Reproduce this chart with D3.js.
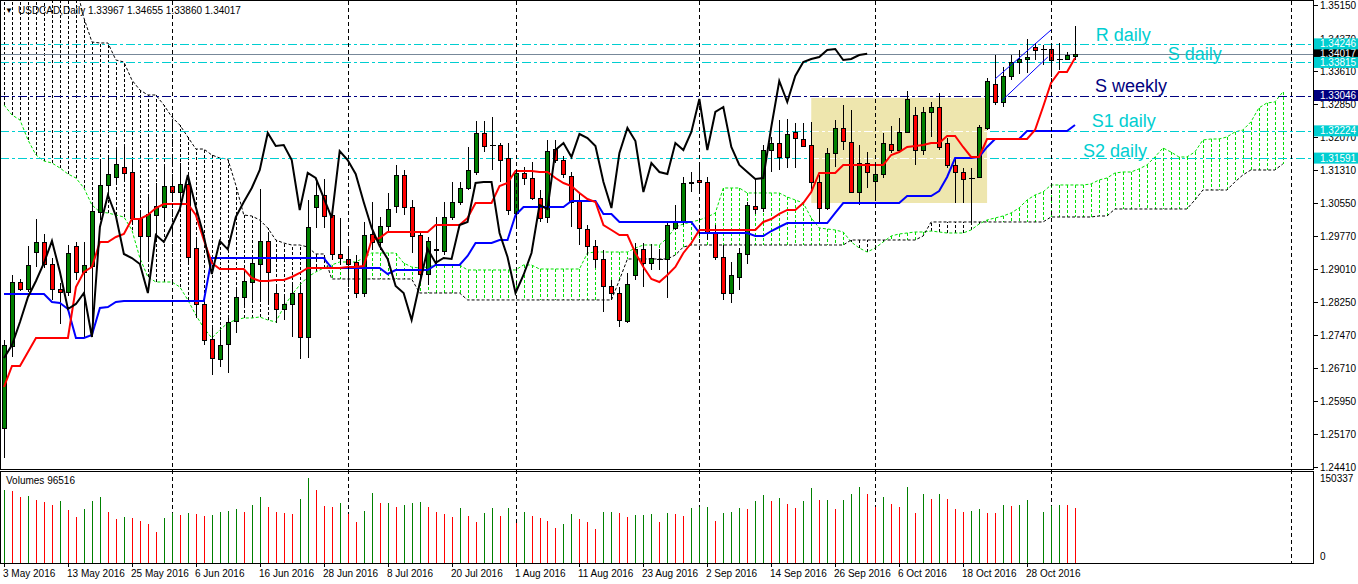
<!DOCTYPE html>
<html><head><meta charset="utf-8">
<script src="https://cdn.jsdelivr.net/npm/d3@7"></script>
<style>
body{margin:0;background:#fff;}
svg{display:block;font-family:"Liberation Sans",Arial,sans-serif;}
</style>
</head><body>
<svg id="c" width="1358" height="584"></svg>
<script>
// ---------------- DATA ----------------
const symbol = "USDCAD,Daily";
const dateLabels = ["3 May 2016","13 May 2016","25 May 2016","6 Jun 2016","16 Jun 2016","28 Jun 2016","8 Jul 2016","20 Jul 2016","1 Aug 2016","11 Aug 2016","23 Aug 2016","2 Sep 2016","14 Sep 2016","26 Sep 2016","6 Oct 2016","18 Oct 2016","28 Oct 2016"];
const dateLabelIdx = [0,8,16,24,32,40,48,56,64,72,80,88,96,104,112,120,128];
const gridIdx = [21,43,64,87,109,131,161];
const priceTicks = [1.35150,1.34370,1.33610,1.32850,1.32070,1.31310,1.30550,1.29770,1.29010,1.28250,1.27470,1.26710,1.25950,1.25170,1.24410];

const open = [
1.25317,1.27223,1.28711,1.28548,1.29408,1.29641,1.29129,1.28548,1.28479,1.29548,
1.28943,1.29083,1.30338,1.30966,1.31152,1.31384,1.31268,1.30199,1.29780,1.30268,
1.30454,1.30942,1.30803,1.30989,1.29501,1.28200,1.27386,1.26921,1.27270,1.27804,
1.28362,1.28711,1.29129,1.29664,1.28455,1.28083,1.28200,1.28455,1.27432,1.30454,
1.30733,1.30268,1.29362,1.29246,1.29176,1.28455,1.29827,1.29641,1.30013,1.30478,
1.31198,1.30454,1.29803,1.28897,1.29460,1.29432,1.30222,1.30571,1.30896,1.31268,
1.32174,1.31896,1.31896,1.31593,1.30315,1.31245,1.31128,1.30664,1.30222,1.31802,
1.31547,1.31175,1.30594,1.29943,1.29548,1.29246,1.28618,1.28455,1.27804,1.28874,
1.29478,1.29153,1.29246,1.29246,1.29966,1.30106,1.31012,1.31082,1.31035,1.29850,
1.29292,1.28455,1.28827,1.29362,1.30478,1.30431,1.31779,1.31942,1.31617,1.32198,
1.32035,1.31896,1.31035,1.30431,1.31710,1.32291,1.31965,1.30803,1.31477,1.31059,
1.31221,1.31919,1.31779,1.32198,1.32593,1.31779,1.32663,1.32779,1.31942,1.31431,
1.31268,1.31128,1.31152,1.32291,1.33313,1.32895,1.33499,1.33825,1.33895,1.34174,
1.34127,1.34127,1.33895,1.33895,1.33967];
const high = [
1.27363,1.28874,1.28781,1.29548,1.30175,1.29827,1.29269,1.28688,1.29571,1.29641,
1.29641,1.30547,1.31570,1.31617,1.31849,1.31849,1.31547,1.30385,1.30687,1.31012,
1.31431,1.31175,1.31477,1.31198,1.29687,1.28362,1.27711,1.27595,1.27921,1.28525,
1.28990,1.29339,1.30873,1.29803,1.28641,1.28386,1.28664,1.28641,1.30617,1.31082,
1.31105,1.30454,1.30199,1.29455,1.29339,1.30106,1.30571,1.30222,1.30780,1.31431,
1.31314,1.30617,1.29873,1.29757,1.30222,1.30571,1.31035,1.31035,1.31849,1.32453,
1.32453,1.32546,1.31942,1.31942,1.31314,1.31384,1.31500,1.30849,1.32012,1.32012,
1.31640,1.31268,1.30780,1.30036,1.29687,1.29455,1.28757,1.28595,1.28920,1.29617,
1.29617,1.29594,1.29478,1.30082,1.30501,1.31152,1.31268,1.31477,1.31152,1.30036,
1.29571,1.29176,1.29501,1.30571,1.31105,1.31896,1.32081,1.32477,1.32500,1.32407,
1.32407,1.32430,1.31198,1.31826,1.32477,1.32825,1.32709,1.31896,1.31733,1.31431,
1.32174,1.32337,1.32523,1.33151,1.32779,1.32779,1.32895,1.33104,1.32058,1.31617,
1.31361,1.31361,1.32360,1.33453,1.33988,1.33709,1.33988,1.34104,1.34359,1.34267,
1.34220,1.34267,1.34267,1.34057,1.34655];
const low = [
1.24620,1.26968,1.28502,1.28479,1.29060,1.29036,1.28293,1.27735,1.28386,1.28757,
1.27432,1.27432,1.30152,1.30733,1.30966,1.31082,1.30036,1.29106,1.29176,1.29687,
1.30106,1.30733,1.30617,1.29106,1.27874,1.27246,1.26549,1.26735,1.26596,1.27525,
1.28130,1.28293,1.28246,1.28246,1.27758,1.27828,1.27432,1.26921,1.26944,1.29966,
1.29966,1.29222,1.29106,1.28595,1.28339,1.28362,1.29455,1.29455,1.29873,1.30315,
1.30268,1.29385,1.28711,1.28641,1.29106,1.29339,1.30152,1.30501,1.30849,1.31198,
1.31733,1.31314,1.31035,1.30268,1.30036,1.30966,1.30617,1.30106,1.30082,1.31477,
1.31128,1.29989,1.29571,1.29339,1.29036,1.28014,1.28293,1.27665,1.27758,1.28757,
1.28595,1.28990,1.28990,1.28339,1.29920,1.30036,1.30803,1.30849,1.29687,1.29222,
1.28293,1.28223,1.28525,1.29129,1.30292,1.30338,1.31268,1.31314,1.31361,1.31361,
1.31849,1.30849,1.30082,1.30385,1.31384,1.31779,1.30780,1.30501,1.30896,1.30687,
1.31128,1.31710,1.31710,1.32174,1.31431,1.31663,1.32081,1.31779,1.31361,1.30547,
1.30547,1.30082,1.31128,1.32244,1.32825,1.32779,1.33406,1.33546,1.33569,1.33871,
1.33755,1.33476,1.33639,1.33871,1.33860];
const close = [
1.27246,1.28711,1.28548,1.29106,1.29641,1.29129,1.28548,1.28479,1.29385,1.28943,
1.29106,1.30361,1.30966,1.31221,1.31454,1.31245,1.30199,1.29780,1.30292,1.30478,
1.30942,1.30803,1.30989,1.29292,1.28200,1.27363,1.26944,1.27246,1.27781,1.28362,
1.28734,1.29153,1.29664,1.28943,1.28083,1.28200,1.28455,1.27432,1.29989,1.30733,
1.30245,1.29362,1.29269,1.29129,1.28455,1.29803,1.29641,1.30013,1.30408,1.31198,
1.30454,1.29780,1.28897,1.29664,1.29470,1.30222,1.30571,1.30896,1.31314,1.32174,
1.31872,1.31896,1.31547,1.30385,1.31245,1.31128,1.30664,1.30199,1.31756,1.31547,
1.31221,1.30571,1.29966,1.29548,1.29246,1.28618,1.28455,1.27828,1.28664,1.29478,
1.29153,1.29269,1.29246,1.30036,1.30106,1.31012,1.31035,1.31035,1.29850,1.29292,
1.28455,1.28874,1.29385,1.30501,1.30408,1.31779,1.31942,1.31617,1.32151,1.32058,
1.31872,1.31035,1.30431,1.31710,1.32291,1.31988,1.30803,1.31477,1.31268,1.31221,
1.31942,1.31779,1.32198,1.32965,1.31779,1.32663,1.32779,1.31849,1.31431,1.31268,
1.31105,1.31128,1.32314,1.33383,1.32895,1.33499,1.33825,1.33895,1.33941,1.34104,
1.34127,1.33871,1.33895,1.33988,1.34017];
const volume = [
128660,126900,116910,117800,111040,107510,102225,109275,93410,81075,
95175,109275,116325,89890,77550,81075,79310,74025,68740,54640,
79310,88125,84600,88125,86360,82840,84600,89890,91650,95175,
89890,102225,116325,98700,89890,89000,86360,112800,150337,128660,
100460,98700,105750,86360,72260,91650,123375,105750,106900,98700,
102225,105750,107510,98700,89890,86360,81075,96940,82840,72260,
88125,96940,82840,96940,70500,89890,82840,79310,74025,61690,
68740,86360,77550,72260,59925,89890,90500,89300,81075,84600,
85200,86360,72260,88125,86360,82840,96940,98700,99300,74025,
88125,89890,96940,96300,109275,119850,109275,114560,103990,96940,
109275,132190,111040,111600,95175,111040,121610,133950,121610,98700,
116325,103990,98700,133950,88125,121610,112800,121610,112800,95175,
89890,91650,95175,88125,87600,102225,100460,102225,111040,0,
89890,100460,102225,101700,96516];

const tenkan = [
1.26270,1.26758,1.26758,1.27084,1.27409,1.27409,1.27409,1.27409,1.27409,1.28595,
1.28943,1.29060,1.29641,1.29641,1.29757,1.29827,1.30175,1.30175,1.30268,1.30431,
1.30524,1.30524,1.30524,1.30524,1.30268,1.29687,1.29153,1.29013,1.29013,1.29013,
1.29013,1.28804,1.28734,1.28734,1.28757,1.28757,1.28827,1.28920,1.29036,1.29036,
1.29036,1.29036,1.29036,1.29060,1.29060,1.29083,1.29687,1.29734,1.29873,1.29873,
1.29873,1.29873,1.29873,1.29873,1.30036,1.30036,1.30036,1.30036,1.30199,1.30547,
1.30547,1.30547,1.30942,1.31012,1.31291,1.31291,1.31291,1.31268,1.31268,1.31128,
1.31012,1.30942,1.30780,1.30640,1.30571,1.30036,1.29920,1.29803,1.29803,1.29385,
1.29060,1.28781,1.28711,1.28874,1.29060,1.29385,1.29617,1.29920,1.29920,1.29920,
1.29920,1.29920,1.29920,1.29920,1.29920,1.30106,1.30175,1.30292,1.30385,1.30385,
1.30547,1.30803,1.31245,1.31245,1.31245,1.31431,1.31431,1.31431,1.31431,1.31431,
1.31431,1.31663,1.31733,1.31849,1.31872,1.31896,1.31942,1.31942,1.32105,1.32105,
1.31849,1.31617,1.31617,1.32035,1.32035,1.32035,1.32035,1.32035,1.32035,1.32244,
1.32779,1.33337,1.33592,1.33592,1.33918];
const kijun = [
1.28432,1.28432,1.28432,1.28432,1.28432,1.28432,1.28246,1.28223,1.28083,1.27409,
1.27409,1.27479,1.28107,1.28130,1.28246,1.28269,1.28269,1.28269,1.28269,1.28269,
1.28269,1.28269,1.28269,1.28269,1.28269,1.28269,1.29269,1.29269,1.29269,1.29269,
1.29269,1.29269,1.29269,1.29269,1.29269,1.29269,1.29269,1.29269,1.29269,1.29269,
1.29269,1.29036,1.29036,1.29036,1.29036,1.29036,1.29036,1.29036,1.28897,1.28990,
1.28990,1.28990,1.28990,1.28990,1.29106,1.29106,1.29106,1.29106,1.29315,1.29617,
1.29617,1.29617,1.29687,1.29687,1.30268,1.30454,1.30454,1.30454,1.30454,1.30454,
1.30454,1.30594,1.30594,1.30594,1.30594,1.30292,1.30292,1.30106,1.30106,1.30106,
1.30106,1.30106,1.30106,1.30106,1.30106,1.30106,1.30106,1.29850,1.29850,1.29850,
1.29850,1.29850,1.29850,1.29850,1.29780,1.29780,1.29896,1.29989,1.30082,1.30082,
1.30082,1.30082,1.30082,1.30082,1.30315,1.30547,1.30547,1.30547,1.30547,1.30547,
1.30547,1.30547,1.30547,1.30710,1.30710,1.30710,1.30710,1.30826,1.31152,1.31593,
1.31593,1.31593,1.31617,1.31849,1.32035,1.32035,1.32035,1.32035,1.32221,1.32221,
1.32221,1.32221,1.32221,1.32221,1.32360];
const spanA = [
1.32825,1.32593,1.32477,1.32012,1.31663,1.31524,1.31477,1.31361,1.31221,1.31128,
1.30896,1.30501,1.30338,1.30315,1.30268,1.30222,1.29920,1.29269,1.28827,1.28711,
1.28711,1.28711,1.28595,1.28293,1.27944,1.27642,1.27409,1.27595,1.27758,1.27828,
1.27874,1.27874,1.27897,1.27828,1.27781,1.28130,1.28409,1.28641,1.28827,1.28943,
1.29036,1.29106,1.29176,1.29176,1.29176,1.29269,1.29385,1.29385,1.29385,1.29385,
1.29153,1.29060,1.29036,1.29060,1.29106,1.29106,1.29106,1.29106,1.28990,1.28990,
1.28990,1.28990,1.28990,1.28990,1.28990,1.29106,1.29106,1.29013,1.29013,1.29013,
1.29013,1.29013,1.29013,1.29385,1.29408,1.29408,1.29408,1.29408,1.29408,1.29501,
1.29571,1.29571,1.29571,1.29734,1.29989,1.30059,1.30106,1.30152,1.30222,1.30315,
1.30896,1.30896,1.30896,1.30780,1.30780,1.30780,1.30780,1.30780,1.30687,1.30617,
1.30547,1.30199,1.29966,1.29943,1.29920,1.29873,1.29641,1.29501,1.29408,1.29501,
1.29641,1.29780,1.29827,1.29850,1.29873,1.29873,1.29896,1.29873,1.29850,1.29850,
1.29850,1.29920,1.30059,1.30152,1.30199,1.30245,1.30315,1.30431,1.30617,1.30733,
1.30803,1.30966,1.30966,1.30966,1.30966,1.30966,1.30989,1.31082,1.31128,1.31245,
1.31268,1.31268,1.31338,1.31431,1.31617,1.31826,1.31733,1.31617,1.31617,1.31733,
1.32012,1.32035,1.32035,1.32081,1.32198,1.32244,1.32430,1.32756,1.32872,1.32895,
1.33128];
const spanB = [
1.35600,1.35600,1.35600,1.35600,1.35600,1.35600,1.35600,1.35600,1.35600,1.35600,
1.34848,1.34290,1.34267,1.34267,1.33871,1.33825,1.33406,1.33174,1.33058,1.33058,
1.32825,1.32546,1.32360,1.32081,1.31802,1.31802,1.31663,1.31593,1.31570,1.30966,
1.30268,1.30245,1.30152,1.29966,1.29687,1.29617,1.29571,1.29571,1.29525,1.29362,
1.29362,1.28781,1.28781,1.28781,1.28781,1.28781,1.28781,1.28781,1.28781,1.28781,
1.28781,1.28781,1.28455,1.28455,1.28455,1.28455,1.28455,1.28455,1.28293,1.28293,
1.28293,1.28293,1.28293,1.28293,1.28293,1.28293,1.28293,1.28293,1.28293,1.28293,
1.28293,1.28293,1.28293,1.28293,1.28293,1.28293,1.28293,1.28757,1.29246,1.29246,
1.29246,1.29246,1.29246,1.29246,1.29339,1.29525,1.29571,1.29571,1.29571,1.29571,
1.29571,1.29571,1.29571,1.29571,1.29571,1.29571,1.29571,1.29571,1.29571,1.29571,
1.29571,1.29571,1.29571,1.29571,1.29571,1.29571,1.29687,1.29687,1.29687,1.29687,
1.29687,1.29687,1.29687,1.29687,1.29687,1.29780,1.30106,1.30106,1.30106,1.30106,
1.30106,1.30106,1.30106,1.30106,1.30106,1.30106,1.30106,1.30106,1.30106,1.30106,
1.30106,1.30222,1.30222,1.30222,1.30222,1.30222,1.30222,1.30245,1.30245,1.30408,
1.30408,1.30408,1.30408,1.30408,1.30408,1.30408,1.30408,1.30408,1.30408,1.30617,
1.30849,1.30849,1.30849,1.30849,1.31035,1.31198,1.31314,1.31314,1.31314,1.31314,
1.31454];
const chikouShift = 26;

// horizontal levels (support / resistance objects)
const levelNames  = ["R daily","S daily","S weekly","S1 daily","S2 daily"];
const levelPrices = [1.34246,1.33815,1.33046,1.32224,1.31591];
const levelKinds  = ["daily","daily","weekly","daily","daily"];
const levelTextIdx   = [136.6,145.6,136.5,136.1,135.0];
const levelTextPrice = [1.34313,1.33871,1.33128,1.32314,1.31617];

// rectangle object (bar index, price)
const boxIdx = [101,123];
const boxPrice = [1.32988,1.30547];
// channel lines (bar index, price)
const channelUpper = [[124,1.33430],[131,1.34569]];
const channelLower = [[124.8,1.32918],[130.6,1.33941]];

// ---------------- DRAW ----------------
const N = close.length;
const plotRight = 1313, mainBottom = 469, volTop = 471, volBottom = 563;
const x = d3.scaleLinear().domain([0, N-1]).range([4, 1075]);
const y = d3.scaleLinear().domain([1.24410, 1.35150]).range([467, 5]);
const yv = d3.scaleLinear().domain([0, d3.max(volume)]).range([volBottom, 478]);
const px = i => Math.round(x(i)) + 0.5;

const CYAN = "#00CED1", NAVY = "#000080", GREEN = "#008000", RED = "#FF0000", LIME = "#00E000";
const kindColor = k => k === "weekly" ? NAVY : CYAN;

const svg = d3.select("#c");
const defs = svg.append("defs");
defs.append("clipPath").attr("id","cm").append("rect")
  .attr("x",1).attr("y",1).attr("width",plotRight-1).attr("height",mainBottom-1);
defs.append("clipPath").attr("id","cv").append("rect")
  .attr("x",1).attr("y",volTop+1).attr("width",plotRight-1).attr("height",volBottom-volTop-1);

const gm = svg.append("g").attr("clip-path","url(#cm)");

// rectangle object
gm.append("rect")
  .attr("x", x(boxIdx[0])).attr("y", y(boxPrice[0]))
  .attr("width", x(boxIdx[1]) - x(boxIdx[0]))
  .attr("height", y(boxPrice[1]) - y(boxPrice[0]))
  .attr("fill", "#EEE6AE");

// cloud hatch
const gh = gm.append("g").attr("shape-rendering","crispEdges");
spanA.forEach((a, i) => {
  const b = spanB[i];
  gh.append("line")
    .attr("x1", px(i)).attr("x2", px(i))
    .attr("y1", y(a)).attr("y2", y(b))
    .attr("stroke", a >= b ? LIME : "#000")
    .attr("stroke-width", 1)
    .attr("stroke-dasharray", "3,2");
});
// span lines
const lineIdx = d3.line().x((d, i) => x(i)).y(d => y(d));
gm.append("path").attr("d", lineIdx(spanA)).attr("fill","none")
  .attr("stroke", LIME).attr("stroke-width",1).attr("stroke-dasharray","3,2");
gm.append("path").attr("d", lineIdx(spanB)).attr("fill","none")
  .attr("stroke", "#000").attr("stroke-width",1).attr("stroke-dasharray","3,2");

// vertical grid
const gg = svg.append("g").attr("shape-rendering","crispEdges");
gridIdx.forEach(i => {
  gg.append("line").attr("x1", px(i)).attr("x2", px(i))
    .attr("y1", 1).attr("y2", volBottom)
    .attr("stroke", "#000").attr("stroke-width", 1).attr("stroke-dasharray", "4,3");
});

// horizontal levels
const gl = gm.append("g").attr("shape-rendering","crispEdges");
levelPrices.forEach((p, k) => {
  const yy = Math.round(y(p)) + 0.5;
  gl.append("line").attr("x1", 0).attr("x2", plotRight).attr("y1", yy).attr("y2", yy)
    .attr("stroke", kindColor(levelKinds[k])).attr("stroke-width", 1)
    .attr("stroke-dasharray", "9,3,3,3");
  if (p < boxPrice[0] && p > boxPrice[1]) {
    const x0 = x(boxIdx[0]);
    gl.append("line").attr("x1", x0).attr("x2", x(boxIdx[1])).attr("y1", yy).attr("y2", yy)
      .attr("stroke", "#fff").attr("stroke-width", 1)
      .attr("stroke-dasharray", "9,3,3,3").attr("stroke-dashoffset", x0);
  }
});
// bid line
const bid = close[N-1];
gl.append("line").attr("x1",0).attr("x2",plotRight)
  .attr("y1", Math.round(y(bid))+0.5).attr("y2", Math.round(y(bid))+0.5)
  .attr("stroke","#778899").attr("stroke-width",1);

// candles
const gc = gm.append("g").attr("shape-rendering","crispEdges");
close.forEach((c, i) => {
  const o = open[i], cx = px(i);
  gc.append("line").attr("x1",cx).attr("x2",cx)
    .attr("y1", y(high[i])).attr("y2", y(low[i])).attr("stroke","#000");
  if (o === c) {
    const yy = Math.round(y(o)) + 0.5;
    gc.append("line").attr("x1", cx-2.5).attr("x2", cx+3.5).attr("y1", yy).attr("y2", yy)
      .attr("stroke","#000");
  } else {
    const top = Math.round(y(Math.max(o,c))), bot = Math.round(y(Math.min(o,c)));
    gc.append("rect").attr("x", cx-2).attr("y", top+0.5)
      .attr("width", 4).attr("height", Math.max(1, bot-top))
      .attr("fill", c > o ? GREEN : RED).attr("stroke","#000").attr("stroke-width",1);
  }
});

// ichimoku lines
gm.append("path").attr("d", lineIdx(kijun)).attr("fill","none")
  .attr("stroke","#0000FF").attr("stroke-width",2);
gm.append("path").attr("d", lineIdx(tenkan)).attr("fill","none")
  .attr("stroke","#FF0000").attr("stroke-width",2);
const chikou = close.slice(chikouShift);
gm.append("path").attr("d", lineIdx(chikou)).attr("fill","none")
  .attr("stroke","#000").attr("stroke-width",2);

// channel lines
const lineXY = d3.line().x(d => x(d[0])).y(d => y(d[1]));
[channelUpper, channelLower].forEach(seg => {
  gm.append("path").attr("d", lineXY(seg)).attr("fill","none")
    .attr("stroke","#0000FF").attr("stroke-width",1);
});

// text objects
levelNames.forEach((t, k) => {
  gm.append("text").attr("x", x(levelTextIdx[k])).attr("y", y(levelTextPrice[k]))
    .attr("font-size", 18).attr("fill", kindColor(levelKinds[k])).text(t);
});

// volumes
const gv = svg.append("g").attr("clip-path","url(#cv)").attr("shape-rendering","crispEdges");
volume.forEach((v, i) => {
  if (v <= 0) return;
  const up = i === 0 || v > volume[i-1];
  gv.append("line").attr("x1", px(i)).attr("x2", px(i))
    .attr("y1", yv(0)).attr("y2", yv(v))
    .attr("stroke", up ? GREEN : RED).attr("stroke-width", 1);
});

// frames
const gf = svg.append("g").attr("shape-rendering","crispEdges");
gf.append("rect").attr("x",0.5).attr("y",0.5).attr("width",plotRight).attr("height",mainBottom)
  .attr("fill","none").attr("stroke","#000");
gf.append("rect").attr("x",0.5).attr("y",volTop+0.5).attr("width",plotRight).attr("height",volBottom-volTop)
  .attr("fill","none").attr("stroke","#000");

// right price axis
const ga = svg.append("g");
priceTicks.forEach(p => {
  const yy = Math.round(y(p)) + 0.5;
  ga.append("line").attr("x1", plotRight+0.5).attr("x2", plotRight+4.5).attr("y1", yy).attr("y2", yy)
    .attr("stroke","#000").attr("shape-rendering","crispEdges");
  ga.append("text").attr("x", plotRight+7).attr("y", yy+3.5).attr("font-size",10).attr("fill","#000")
    .text(p.toFixed(5));
});
// value boxes: bid first, then levels on top
function priceBox(p, bg) {
  const yy = y(p);
  ga.append("rect").attr("x", plotRight+1).attr("y", yy-5.5).attr("width", 1358-plotRight-1).attr("height", 11)
    .attr("fill", bg);
  ga.append("text").attr("x", plotRight+7).attr("y", yy+3.5).attr("font-size",10).attr("fill","#fff")
    .text(p.toFixed(5));
}
priceBox(bid, "#000");
levelPrices.forEach((p, k) => priceBox(p, kindColor(levelKinds[k])));

// volume axis labels
ga.append("text").attr("x", plotRight+7).attr("y", 482).attr("font-size",10).text(String(d3.max(volume)));
ga.append("text").attr("x", plotRight+7).attr("y", 560).attr("font-size",10).text("0");
svg.append("text").attr("x", 6).attr("y", 484).attr("font-size",10)
  .text("Volumes " + volume[N-1]);

// date axis
const gd = svg.append("g");
dateLabels.forEach((t, k) => {
  const xx = px(dateLabelIdx[k]);
  gd.append("line").attr("x1", xx).attr("x2", xx).attr("y1", volBottom).attr("y2", volBottom+4)
    .attr("stroke","#000").attr("shape-rendering","crispEdges");
  gd.append("text").attr("x", xx-1.5).attr("y", 577).attr("font-size",10).text(t);
});

// header
svg.append("text").attr("x", 5).attr("y", 13).attr("font-size", 8).text("\u25BC");
svg.append("text").attr("x", 18).attr("y", 14).attr("font-size", 10)
  .text(symbol + "  " + [open[N-1], high[N-1], low[N-1], close[N-1]].map(v => v.toFixed(5)).join(" "));
</script>
</body></html>
